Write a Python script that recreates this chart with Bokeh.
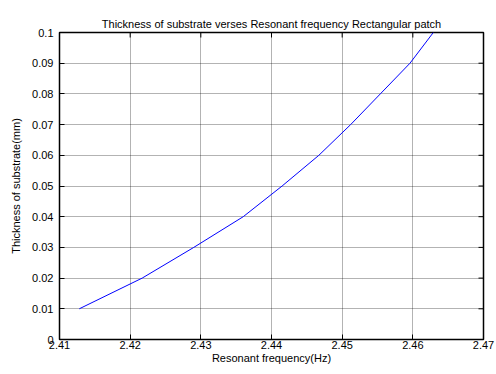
import math
from bokeh.plotting import figure
from bokeh.models import LinearAxis, Label, FixedTicker, Range1d
from bokeh.embed import file_html
from bokeh.resources import INLINE

# Resonant frequency in units of 1e7 Hz
freq = [2.4128, 2.4217, 2.4290, 2.4360, 2.4415, 2.4467, 2.4512, 2.4554, 2.4596, 2.4629]
thickness = [0.01, 0.02, 0.03, 0.04, 0.05, 0.06, 0.07, 0.08, 0.09, 0.10]
x_ticks = [2.41, 2.42, 2.43, 2.44, 2.45, 2.46, 2.47]
y_ticks = [0, 0.01, 0.02, 0.03, 0.04, 0.05, 0.06, 0.07, 0.08, 0.09, 0.1]
y_labels = {0: "0", 0.01: "0.01", 0.02: "0.02", 0.03: "0.03", 0.04: "0.04", 0.05: "0.05",
            0.06: "0.06", 0.07: "0.07", 0.08: "0.08", 0.09: "0.09", 0.1: "0.1"}

FONT = "Liberation Sans"
X0, X1 = x_ticks[0], x_ticks[-1]
Y0, Y1 = y_ticks[0], y_ticks[-1]

p = figure(width=496, height=374, output_backend="svg", toolbar_location=None,
           x_range=Range1d(X0, X1), y_range=Range1d(Y0, Y1),
           min_border_left=59, min_border_right=13, min_border_top=32, min_border_bottom=35,
           x_axis_location=None, y_axis_location=None)

p.title.text = "Thickness of substrate verses Resonant frequency Rectangular patch"
p.title.align = "center"
p.title.text_font = FONT
p.title.text_font_size = "11px"
p.title.text_font_style = "normal"
p.title.text_color = "black"
p.title.standoff = 6

p.outline_line_color = "black"
p.outline_line_width = 1.5
p.background_fill_color = "white"
p.border_fill_color = "white"

def style_axis(ax):
    ax.axis_line_color = "black"
    ax.axis_line_width = 1
    ax.major_tick_in = 5
    ax.major_tick_out = 0
    ax.minor_tick_in = 0
    ax.minor_tick_out = 0
    ax.major_tick_line_color = "black"
    ax.major_label_text_font = FONT
    ax.major_label_text_font_size = "11px"
    ax.major_label_text_color = "black"
    ax.axis_label_text_font = FONT
    ax.axis_label_text_font_size = "11px"
    ax.axis_label_text_font_style = "normal"
    ax.axis_label_text_color = "black"

xb = LinearAxis(ticker=FixedTicker(ticks=x_ticks), axis_label="Resonant frequency(Hz)")
yl = LinearAxis(ticker=FixedTicker(ticks=y_ticks), axis_label="Thickness of substrate(mm)")
yl.major_label_overrides = y_labels
style_axis(xb)
style_axis(yl)
xb.major_label_standoff = 1
xb.axis_label_standoff = 0
yl.major_label_standoff = 6
yl.axis_label_standoff = 7
p.add_layout(xb, "below")
p.add_layout(yl, "left")

p.xgrid.ticker = FixedTicker(ticks=x_ticks)
p.ygrid.ticker = FixedTicker(ticks=y_ticks)
for g in (p.xgrid, p.ygrid):
    g.grid_line_color = "black"
    g.grid_line_alpha = 0.6
    g.grid_line_dash = "1 1"
    g.grid_line_width = 1

# inward ticks on top and right edges (box style)
p.ray(x=x_ticks, y=[Y1] * len(x_ticks), length=5, length_units="screen",
      angle=-math.pi / 2, line_color="black", line_width=1)
p.ray(x=[X1] * len(y_ticks), y=y_ticks, length=5, length_units="screen",
      angle=math.pi, line_color="black", line_width=1)

p.line(freq, thickness, line_color="blue", line_width=1)

p.add_layout(Label(x=X1, y=-0.0096, text="x 10", text_font=FONT, text_font_size="10px",
                   text_color="black", text_align="right", text_baseline="alphabetic", x_offset=-3))
p.add_layout(Label(x=X1, y=-0.0096, text="7", text_font=FONT, text_font_size="7px",
                   text_color="black", text_align="left", text_baseline="alphabetic",
                   x_offset=-3, y_offset=6))

open("out.html", "w").write(file_html(p, INLINE))
